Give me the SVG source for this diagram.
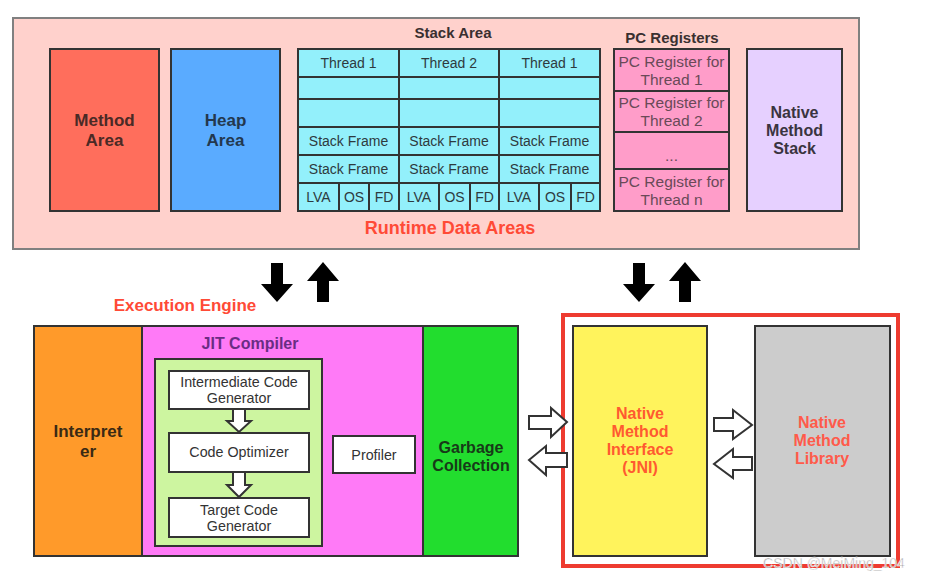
<svg xmlns="http://www.w3.org/2000/svg" width="931" height="580" viewBox="0 0 931 580">
<style>
text{font-family:"Liberation Sans",Arial,sans-serif;text-anchor:middle}
.b{font-weight:bold}
.box{stroke:#333;stroke-width:2}
.cell{fill:#93f0fb;stroke:#333;stroke-width:2}
.ct{font-size:14px;fill:#2e3a3e}
.pc{fill:#ff9dc9;stroke:#333;stroke-width:2}
.pt{font-size:15.5px;fill:#6a4a58}
.wb{fill:#fff;stroke:#333;stroke-width:2}
.wt{font-size:14.3px;fill:#333}
.harrow{fill:#fff;stroke:#333;stroke-width:2;stroke-linejoin:miter}
.barrow{fill:#000}
</style>
<rect width="931" height="580" fill="#fff"/>

<g id="runtime-data-areas">
<rect x="13" y="18" width="846" height="231" fill="#ffd1cc" stroke="#808080" stroke-width="2"/>
<text x="450" y="234" class="b" font-size="18" fill="#ff4a36">Runtime Data Areas</text>
</g>

<g id="method-area">
<rect x="50" y="49" width="109" height="162" fill="#ff6e5c" class="box"/>
<text x="104.5" y="126" class="b" font-size="17" fill="#4a2a26">Method</text>
<text x="104.5" y="146" class="b" font-size="17" fill="#4a2a26">Area</text>
</g>

<g id="heap-area">
<rect x="171" y="49" width="109" height="162" fill="#5aabff" class="box"/>
<text x="225.5" y="126" class="b" font-size="17" fill="#24384e">Heap</text>
<text x="225.5" y="146" class="b" font-size="17" fill="#24384e">Area</text>
</g>

<g id="stack-area">
<text x="453" y="38" class="b" font-size="15" fill="#3a3030">Stack Area</text>
<rect x="298" y="49" width="101" height="28" class="cell"/>
<rect x="399" y="49" width="100" height="28" class="cell"/>
<rect x="499" y="49" width="101" height="28" class="cell"/>
<rect x="298" y="77" width="101" height="22" class="cell"/>
<rect x="399" y="77" width="100" height="22" class="cell"/>
<rect x="499" y="77" width="101" height="22" class="cell"/>
<rect x="298" y="99" width="101" height="28" class="cell"/>
<rect x="399" y="99" width="100" height="28" class="cell"/>
<rect x="499" y="99" width="101" height="28" class="cell"/>
<rect x="298" y="127" width="101" height="28" class="cell"/>
<rect x="399" y="127" width="100" height="28" class="cell"/>
<rect x="499" y="127" width="101" height="28" class="cell"/>
<rect x="298" y="155" width="101" height="28" class="cell"/>
<rect x="399" y="155" width="100" height="28" class="cell"/>
<rect x="499" y="155" width="101" height="28" class="cell"/>
<rect x="298" y="183" width="41" height="28" class="cell"/>
<rect x="339" y="183" width="30" height="28" class="cell"/>
<rect x="369" y="183" width="30" height="28" class="cell"/>
<rect x="399" y="183" width="40" height="28" class="cell"/>
<rect x="439" y="183" width="31" height="28" class="cell"/>
<rect x="470" y="183" width="29" height="28" class="cell"/>
<rect x="499" y="183" width="40" height="28" class="cell"/>
<rect x="539" y="183" width="32" height="28" class="cell"/>
<rect x="571" y="183" width="29" height="28" class="cell"/>
<text x="348.5" y="68" class="ct" font-size="15">Thread 1</text>
<text x="449" y="68" class="ct" font-size="15">Thread 2</text>
<text x="549.5" y="68" class="ct" font-size="15">Thread 1</text>
<text x="348.5" y="146" class="ct">Stack Frame</text>
<text x="449" y="146" class="ct">Stack Frame</text>
<text x="549.5" y="146" class="ct">Stack Frame</text>
<text x="348.5" y="174" class="ct">Stack Frame</text>
<text x="449" y="174" class="ct">Stack Frame</text>
<text x="549.5" y="174" class="ct">Stack Frame</text>
<text x="318.5" y="202" class="ct" font-size="13.5">LVA</text>
<text x="354" y="202" class="ct" font-size="13.5">OS</text>
<text x="384" y="202" class="ct" font-size="13.5">FD</text>
<text x="419" y="202" class="ct" font-size="13.5">LVA</text>
<text x="454.5" y="202" class="ct" font-size="13.5">OS</text>
<text x="484.5" y="202" class="ct" font-size="13.5">FD</text>
<text x="519" y="202" class="ct" font-size="13.5">LVA</text>
<text x="555" y="202" class="ct" font-size="13.5">OS</text>
<text x="585.5" y="202" class="ct" font-size="13.5">FD</text>
</g>

<g id="pc-registers">
<text x="672" y="43" class="b" font-size="15" fill="#3a3030">PC Registers</text>
<rect x="614" y="49" width="115" height="42" class="pc"/>
<rect x="614" y="91" width="115" height="41" class="pc"/>
<rect x="614" y="132" width="115" height="37" class="pc"/>
<rect x="614" y="169" width="115" height="42" class="pc"/>
<text x="671.5" y="67" class="pt">PC Register for</text>
<text x="671.5" y="85" class="pt">Thread 1</text>
<text x="671.5" y="108" class="pt">PC Register for</text>
<text x="671.5" y="126" class="pt">Thread 2</text>
<text x="671.5" y="161" class="pt" font-size="12">...</text>
<text x="671.5" y="187" class="pt">PC Register for</text>
<text x="671.5" y="205" class="pt">Thread n</text>
</g>

<g id="native-method-stack">
<rect x="747" y="49" width="95" height="162" fill="#e6d0ff" class="box"/>
<text x="794.5" y="118" class="b" font-size="16" fill="#3a3440">Native</text>
<text x="794.5" y="136" class="b" font-size="16" fill="#3a3440">Method</text>
<text x="794.5" y="154" class="b" font-size="16" fill="#3a3440">Stack</text>
</g>

<g id="execution-engine">
<text x="185" y="311" class="b" font-size="17" fill="#ff4a36">Execution Engine</text>
</g>

<g id="interpreter">
<rect x="34" y="326" width="108" height="230" fill="#ff9a2a" class="box"/>
<text x="88" y="437" class="b" font-size="17" fill="#3a2a14">Interpret</text>
<text x="88" y="457" class="b" font-size="17" fill="#3a2a14">er</text>
</g>

<g id="jit-compiler">
<rect x="142" y="326" width="281" height="230" fill="#ff7af7" class="box"/>
<text x="250" y="349" class="b" font-size="16" fill="#6a2d84">JIT Compiler</text>
<rect x="155" y="359" width="167" height="187" fill="#cdf5a0" class="box"/>
</g>

<g id="intermediate-code-generator">
<rect x="169" y="371" width="140" height="38" class="wb"/>
<text x="239" y="387" class="wt">Intermediate Code</text>
<text x="239" y="403" class="wt">Generator</text>
</g>

<g id="code-optimizer">
<rect x="169" y="433" width="140" height="39" class="wb"/>
<text x="239" y="457" class="wt">Code Optimizer</text>
</g>

<g id="target-code-generator">
<rect x="169" y="498" width="140" height="39" class="wb"/>
<text x="239" y="515" class="wt">Target Code</text>
<text x="239" y="531" class="wt">Generator</text>
</g>

<g id="profiler">
<rect x="333" y="436" width="82" height="37" class="wb"/>
<text x="374" y="460" class="wt">Profiler</text>
</g>

<g id="garbage-collection">
<rect x="423" y="326" width="95" height="230" fill="#22dd2e" class="box"/>
<text x="471" y="453" class="b" font-size="16" fill="#173a18">Garbage</text>
<text x="471" y="471" class="b" font-size="16" fill="#173a18">Collection</text>
</g>

<g id="native-group">
<rect x="563" y="315" width="335" height="251" fill="none" stroke="#ee3b30" stroke-width="4"/>
</g>

<g id="native-method-interface">
<rect x="573" y="326" width="134" height="230" fill="#fff35c" class="box"/>
<text x="640" y="419" class="b" font-size="16" fill="#ff5a30">Native</text>
<text x="640" y="437" class="b" font-size="16" fill="#ff5a30">Method</text>
<text x="640" y="455" class="b" font-size="16" fill="#ff5a30">Interface</text>
<text x="640" y="473" class="b" font-size="16" fill="#ff5a30">(JNI)</text>
</g>

<g id="native-method-library">
<rect x="755" y="326" width="135" height="230" fill="#cccccc" class="box"/>
<text x="822" y="428" class="b" font-size="16" fill="#ff5a4a">Native</text>
<text x="822" y="446" class="b" font-size="16" fill="#ff5a4a">Method</text>
<text x="822" y="464" class="b" font-size="16" fill="#ff5a4a">Library</text>
</g>

<g id="connectors">
<polygon class="barrow" points="271,263 283,263 283,284 293,284 277,302 261,284 271,284"/>
<polygon class="barrow" points="323,262 339,281 329,281 329,302 317,302 317,281 307,281"/>
<polygon class="barrow" points="633,263 645,263 645,284 655,284 639,302 623,284 633,284"/>
<polygon class="barrow" points="685,262 701,281 691,281 691,302 679,302 679,281 669,281"/>
<polygon class="harrow" points="233,409 245,409 245,421 251,421 239,432 227,421 233,421"/>
<polygon class="harrow" points="233,472 245,472 245,485 251,485 239,497 227,485 233,485"/>
<polygon class="harrow" points="529,416 551,416 551,408 567,422 551,437 551,429 529,429"/>
<polygon class="harrow" points="567,453 546,453 546,446 529,460 546,475 546,467 567,467"/>
<polygon class="harrow" points="714,418 733,418 733,410 752,425 733,439 733,431 714,431"/>
<polygon class="harrow" points="752,457 733,457 733,449 714,464 733,478 733,470 752,470"/>
</g>

<text x="834" y="568" font-size="14" fill="#9a9a9a" stroke="#fff" stroke-width="0.5">CSDN @MeiMing_104</text>
</svg>
